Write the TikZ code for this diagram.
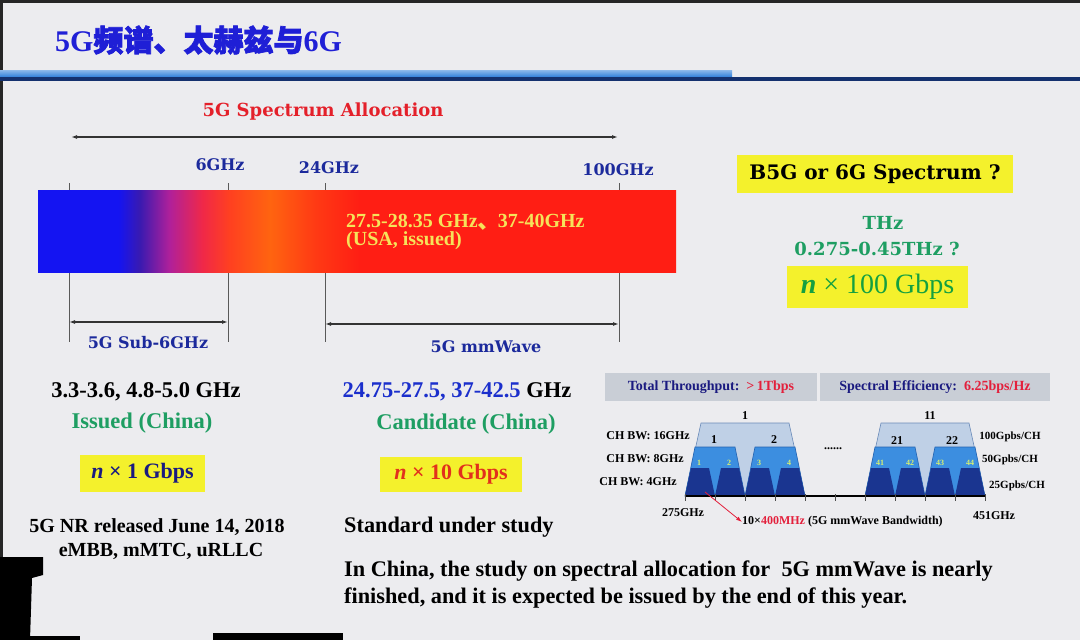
\documentclass[tikz,border=0pt]{standalone}
\usepackage{fontspec}
\setmainfont{Liberation Serif}
\newfontfamily\widefont{DejaVu Serif}
\newfontfamily\cjk{Noto Sans CJK SC}[FakeBold=2.5]
\usepackage{tikz}
\usetikzlibrary{arrows.meta}

\definecolor{slidebg}{HTML}{ECECEF}
\definecolor{titleblue}{HTML}{1F1FD6}
\definecolor{ruleblue}{HTML}{2F7FDA}
\definecolor{rulenavy}{HTML}{14306E}
\definecolor{navy}{HTML}{1C2A9C}
\definecolor{allocred}{HTML}{E4202A}
\definecolor{okgreen}{HTML}{1E9E62}
\definecolor{boxyellow}{HTML}{F4F12C}
\definecolor{bandyellow}{HTML}{F6E35A}
\definecolor{freqblue}{HTML}{1B2FCC}
\definecolor{ratenavy}{HTML}{1A1A80}
\definecolor{ratered}{HTML}{E2301C}
\definecolor{rategreen}{HTML}{14A040}
\definecolor{hdrgray}{HTML}{C9CED6}
\definecolor{hotred}{HTML}{E3203C}
\definecolor{chlight}{HTML}{BFD0E6}
\definecolor{chlightline}{HTML}{6A8AB8}
\definecolor{chmid}{HTML}{3C8EE0}
\definecolor{chmidline}{HTML}{2462B0}
\definecolor{chdark}{HTML}{1A3590}
\definecolor{chnum}{HTML}{D8F070}
\definecolor{baseline}{HTML}{D8287A}
% spectrum colours
\definecolor{specblue}{HTML}{1414F2}
\definecolor{specindigo}{HTML}{3A1AB0}
\definecolor{specpurple}{HTML}{B0209A}
\definecolor{specpink}{HTML}{F02848}
\definecolor{specorangeA}{HTML}{FF4020}
\definecolor{specorange}{HTML}{FF6410}
\definecolor{specredA}{HTML}{FF3A14}
\definecolor{specred}{HTML}{FF1E14}

\pgfdeclarehorizontalshading{spectrum}{100bp}{color(0bp)=(specblue); color(25bp)=(specblue); color(31.3bp)=(specblue); color(33bp)=(specindigo); color(35.3bp)=(specpurple); color(37.9bp)=(specpink); color(40bp)=(specorangeA); color(43.2bp)=(specorange); color(46.7bp)=(specredA); color(50.2bp)=(specred); color(75bp)=(specred); color(100bp)=(specred)}

\tikzset{
	titletext/.style={font=\bfseries\fontsize{30}{32}\selectfont, text=titleblue, inner sep=0pt},
	alloctext/.style={font=\widefont\bfseries\fontsize{18}{20}\selectfont, text=allocred, inner sep=0pt},
	bandlabel/.style={font=\widefont\bfseries\fontsize{16}{18}\selectfont, text=navy, inner sep=0pt},
	bartext/.style={font=\bfseries\fontsize{20}{21}\selectfont, text=bandyellow, inner sep=0pt, anchor=west},
	body/.style={font=\bfseries\fontsize{22.5}{24}\selectfont, inner sep=0pt},
	note/.style={font=\bfseries\fontsize{20}{22}\selectfont, inner sep=0pt},
	ratebox/.style={fill=boxyellow, font=\bfseries\fontsize{22}{24}\selectfont, inner sep=0pt},
	thzlabel/.style={font=\widefont\bfseries\fontsize{18}{20}\selectfont, text=okgreen, inner sep=0pt},
	hdrbox/.style={fill=hdrgray, font=\bfseries\fontsize{14}{16}\selectfont, text=ratenavy, inner sep=0pt},
	chart/.style={font=\bfseries\fontsize{12}{13}\selectfont, inner sep=0pt},
	chsmall/.style={font=\bfseries\fontsize{8}{9}\selectfont, text=chnum, inner sep=0pt},
	span/.style={{Latex[length=6pt,width=4pt]}-{Latex[length=6pt,width=4pt]}, line width=1.2pt, draw=black!80},
	tickline/.style={draw=black!65, line width=0.8pt},
}

\begin{document}
\begin{tikzpicture}[x=1pt,y=-1pt]
	\useasboundingbox (0,0) rectangle (1080,640);
	\fill[slidebg] (0,0) rectangle (1080,640);
	% photo edges
	\fill[black!85] (0,0) rectangle (1080,3);
	\fill[black!85] (0,0) rectangle (3,640);
	\fill[black] (0,557) -- (43,557) -- (43,575) -- (32,578) -- (30,640) -- (0,640) -- cycle;
	\fill[black] (0,636) rectangle (80,640);
	\fill[black] (213,633) rectangle (343,640);
	
	%title
	\node[titletext, anchor=west] (title) at (55,40) {5G{\cjk 频谱、太赫兹与}6G};
	\fill[top color=ruleblue!55!white, bottom color=ruleblue] (0,70) rectangle (732,77);
	\fill[rulenavy] (0,77) rectangle (1080,81);
	
	%spectrum allocation
	\node[alloctext] (alloc) at (323,112) {5G Spectrum Allocation};
	\coordinate (spanL) at (71,137);
	\coordinate (spanR) at (618,137);
	\draw[span] (spanL) -- (spanR);
	
	\foreach \name/\x in {f0/69, f6/228, f24/325, f100/619} {
		\coordinate (\name-top) at (\x,183);
		\coordinate (\name-bot) at (\x,342);
		\draw[tickline] (\name-top) -- (\name-bot);
	}
	
	\path[shading=spectrum] (38,190) rectangle (676,272);
	\node[bartext] (usa) at (346,222) {27.5-28.35 GHz{\cjk 、}37-40GHz};
	\node[bartext] (usa2) at (346,241) {(USA, issued)};
	
	\node[bandlabel] (l6) at (220,165) {6GHz};
	\node[bandlabel] (l24) at (329,168) {24GHz};
	\node[bandlabel] (l100) at (618,170) {100GHz};
	
	\coordinate (sub6L) at (69,322);
	\coordinate (sub6R) at (228,322);
	\coordinate (mmL) at (325,324);
	\coordinate (mmR) at (619,324);
	\draw[span] (sub6L) -- (sub6R);
	\draw[span] (mmL) -- (mmR);
	\node[bandlabel] (sub6) at (148,343) {5G Sub-6GHz};
	\node[bandlabel] (mmw) at (486,347) {5G mmWave};
	
	%sub-6 column
	\node[body] (sub6f) at (146,392) {3.3-3.6, 4.8-5.0 GHz};
	\node[body, text=okgreen] (sub6st) at (142,423) {Issued (China)};
	\node[ratebox, minimum width=125pt, minimum height=37pt, text=ratenavy] (rate1) at (142.5,473.5) {\textit{n} × 1 Gbps};
	\node[note] (nr) at (157,527) {5G NR released June 14, 2018};
	\node[note] (usecase) at (161,551) {eMBB, mMTC, uRLLC};
	
	%mmwave column
	\node[body] (mmf) at (457,392) {\textcolor{freqblue}{24.75-27.5, 37-42.5} GHz};
	\node[body, text=okgreen] (mmst) at (466,424) {Candidate (China)};
	\node[ratebox, minimum width=142pt, minimum height=35pt, text=ratered] (rate10) at (451,474.5) {\textit{n} × 10 Gbps};
	\node[note, anchor=west, font=\bfseries\fontsize{22.3}{24}\selectfont] (std) at (344,527) {Standard under study};
	\node[note, anchor=west, font=\bfseries\fontsize{22.3}{24}\selectfont] (cn1) at (344,571) {In China, the study on spectral allocation for\ \ 5G mmWave is nearly};
	\node[note, anchor=west, font=\bfseries\fontsize{22.3}{24}\selectfont] (cn2) at (344,598) {finished, and it is expected be issued by the end of this year.};
	
	%beyond 5g
	\node[fill=boxyellow, font=\widefont\bfseries\fontsize{20}{22}\selectfont, minimum width=276pt, minimum height=38pt, inner sep=0pt] (b5g) at (875,174) {B5G or 6G Spectrum ?};
	\node[thzlabel] (thz) at (883,223) {THz};
	\node[thzlabel] (thzr) at (877,249) {0.275-0.45THz ?};
	\node[ratebox, minimum width=181pt, minimum height=42pt, text=rategreen, font=\fontsize{28}{30}\selectfont] (rate100) at (877.5,287) {\textbf{\textit{n}} × 100 Gbps};
	
	%thz channel plan
	\node[hdrbox, minimum width=212pt, minimum height=28pt] (tput) at (711,387) {Total Throughput:\ \ \textcolor{hotred}{>\,1Tbps}};
	\node[hdrbox, minimum width=230pt, minimum height=28pt] (eff) at (935,387) {Spectral Efficiency:\ \ \textcolor{hotred}{6.25bps/Hz}};
	
	% 16GHz channels
	\foreach \g in {685,865}
		\filldraw[fill=chlight, draw=chlightline, line width=0.6pt] (\g,496) -- (\g+16,423) -- (\g+104,423) -- (\g+120,496) -- cycle;
	% 8GHz channels
	\foreach \g in {685,745,865,925}
		\filldraw[fill=chmid, draw=chmidline, line width=0.6pt] (\g,496) -- (\g+10,447) -- (\g+50,447) -- (\g+60,496) -- cycle;
	% 4GHz channels
	\foreach \g in {685,715,745,775,865,895,925,955}
		\fill[chdark] (\g,496) -- (\g+6,468) -- (\g+24,468) -- (\g+30,496) -- cycle;
	\draw[baseline, line width=2.2pt] (685,496) -- (985,496);
	\foreach \t in {0,...,10}
		\draw[black!70, line width=0.6pt] (685+30*\t,494) -- (685+30*\t,501);
	
	\node[chart] (c1) at (745,416) {1};
	\node[chart] (c11) at (930,416) {11};
	\node[chart] (c1a) at (714,440) {1};
	\node[chart] (c2a) at (774,440) {2};
	\node[chart] (c21) at (897,441) {21};
	\node[chart] (c22) at (952,441) {22};
	\foreach \n/\x in {1/699,2/729,3/759,4/789,41/880,42/910,43/940,44/970}
		\node[chsmall] (s\n) at (\x,463) {\n};
	\node[chart] (dots) at (833,449) {......};
	
	\node[chart] (bw16) at (648,436) {CH BW: 16GHz};
	\node[chart] (bw8) at (645,459) {CH BW: 8GHz};
	\node[chart] (bw4) at (638,482) {CH BW: 4GHz};
	\node[chart, font=\bfseries\fontsize{11}{12}\selectfont] (r100) at (1010,437) {100Gpbs/CH};
	\node[chart, font=\bfseries\fontsize{11}{12}\selectfont] (r50) at (1010,460) {50Gpbs/CH};
	\node[chart, font=\bfseries\fontsize{11}{12}\selectfont] (r25) at (1017,486) {25Gpbs/CH};
	\node[chart] (lo) at (683,513) {275GHz};
	\node[chart] (hi) at (994,516) {451GHz};
	
	\node[chart, anchor=west] (bw) at (742,522) {10×\textcolor{hotred}{400MHz} (5G mmWave Bandwidth)};
	\coordinate (bwtail) at (705,492);
	\draw[-{Latex[length=6pt,width=4pt]}, hotred, line width=0.8pt] (bwtail) -- (bw.west);
\end{tikzpicture}
\end{document}
